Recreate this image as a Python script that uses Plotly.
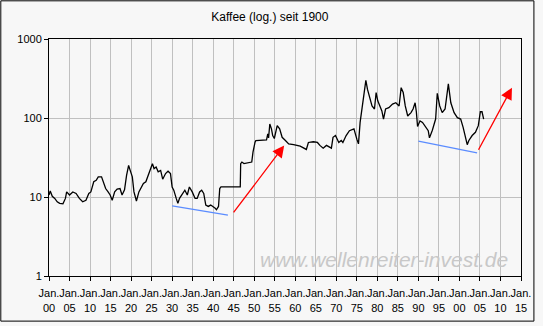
import math
import plotly.graph_objects as go

# Kaffee price history (decimal year, price), log scale
years = [
    1900.0, 1900.3, 1900.8, 1901.4, 1902.0, 1902.6, 1903.4, 1904.0, 1904.3, 1905.0,
    1905.8, 1906.6, 1907.4, 1908.2, 1909.0, 1909.7, 1910.2, 1910.9, 1911.5, 1912.0,
    1912.8, 1913.3, 1913.8, 1914.4, 1914.9, 1915.4, 1916.0, 1916.6, 1917.3, 1917.8,
    1918.4, 1918.9, 1919.4, 1919.9, 1920.3, 1920.7, 1921.3, 1921.9, 1922.5, 1923.0,
    1923.6, 1924.2, 1924.8, 1925.2, 1925.6, 1926.1, 1926.6, 1927.2, 1927.7, 1928.4,
    1929.0, 1929.6, 1930.0, 1930.4, 1931.0, 1931.4, 1931.8, 1932.5, 1933.1, 1933.7,
    1934.2, 1934.9, 1935.6, 1936.1, 1936.7, 1937.2, 1937.7, 1938.2, 1938.8, 1939.4,
    1940.0, 1940.5, 1940.8, 1941.3, 1941.6, 1941.9, 1946.6, 1946.7, 1947.0, 1947.5,
    1949.4, 1949.7, 1950.2, 1950.4, 1953.0, 1953.3, 1953.5, 1953.8, 1954.2, 1954.5,
    1954.9, 1955.2, 1955.6, 1956.2, 1956.8, 1957.6, 1958.4, 1959.6, 1961.2, 1962.7,
    1963.2, 1964.4, 1965.4, 1966.0, 1966.8, 1967.6, 1968.8, 1969.2, 1969.8, 1970.6,
    1971.2, 1971.6, 1972.4, 1973.2, 1974.3, 1975.0, 1975.4, 1975.8, 1976.4, 1976.9,
    1977.2, 1977.6, 1978.1, 1978.7, 1979.3, 1979.7, 1980.1, 1980.6, 1981.1, 1981.5,
    1982.0, 1982.8, 1983.7, 1984.5, 1985.3, 1985.8, 1986.3, 1986.8, 1987.4, 1988.2,
    1988.7, 1989.2, 1989.5, 1989.8, 1990.4, 1991.0, 1991.8, 1992.4, 1992.7, 1993.4,
    1994.2, 1994.6, 1995.2, 1995.8, 1996.5, 1997.0, 1997.3, 1997.9, 1998.7, 1999.5,
    2000.3, 2000.9, 2001.3, 2001.9, 2002.3, 2003.1, 2003.9, 2004.6, 2005.1, 2005.5,
    2005.9,
]
prices = [
    10.6, 11.9, 10.2, 9.6, 8.7, 8.3, 8.2, 9.6, 11.6, 10.6,
    11.6, 11.1, 9.6, 8.7, 9.1, 11.1, 11.6, 15.6, 16.3, 18.0,
    18.0, 15.6, 12.8, 11.6, 10.6, 9.1, 11.6, 12.6, 12.8, 10.6,
    12.3, 18.8, 25.1, 20.8, 18.0, 11.6, 8.9, 11.6, 13.4, 14.8,
    15.6, 18.8, 22.9, 26.4, 22.9, 24.0, 20.8, 21.7, 16.8, 19.8,
    21.2, 19.8, 13.4, 12.2, 9.6, 8.3, 9.6, 11.1, 12.2, 10.6,
    13.4, 11.6, 9.6, 9.6, 11.6, 12.2, 11.1, 7.9, 7.6, 7.9,
    7.6, 7.2, 6.9, 7.6, 12.8, 13.4, 13.4, 26.4, 27.7, 26.5,
    27.7, 37.0, 49.4, 51.9, 53.0, 63.0, 56.0, 84.0, 73.0, 60.0,
    55.0, 66.0, 80.0, 73.0, 57.0, 52.0, 47.0, 46.0, 44.0, 40.0,
    49.0, 50.0, 49.0, 45.0, 41.5, 45.0, 41.5, 57.0, 60.0, 49.0,
    52.0, 49.0, 60.0, 69.0, 73.0, 54.0, 47.0, 88.0, 142.0, 210.0,
    300.0, 230.0, 190.0, 142.0, 130.0, 210.0, 165.0, 142.0, 123.0, 97.0,
    130.0, 135.0, 150.0, 156.0, 142.0, 242.0, 210.0, 142.0, 106.0, 117.0,
    130.0, 156.0, 120.0, 78.0, 92.0, 88.0, 76.0, 69.0, 56.0, 70.0,
    97.0, 205.0, 142.0, 117.0, 130.0, 190.0, 270.0, 156.0, 117.0, 101.0,
    97.0, 76.0, 60.0, 46.0, 52.0, 60.0, 66.0, 80.0, 120.0, 120.0,
    97.0,
]

# Support lines (blue) and projected moves (red arrows)
support_1_x = [1930.0, 1943.6]
support_1_y = [7.7, 5.9]
support_2_x = [1990.0, 2004.3]
support_2_y = [51.0, 36.3]
arrow_1_x = [1944.7, 1957.3]
arrow_1_y = [6.1, 44.8]
arrow_2_x = [2004.45, 2012.8]
arrow_2_y = [38.0, 242.0]

tick_years = list(range(1900, 2016, 5))
tick_labels = ["Jan.<br>%02d" % (y % 100) for y in tick_years]
y_ticks = [1, 10, 100, 1000]
y_labels = ["1", "10", "100", "1000"]

BG = "#F7F7F7"
GRID = "#C0C0C0"
FONT = "Liberation Sans, Arial, sans-serif"

fig = go.Figure()

fig.add_trace(go.Scatter(
    x=years, y=prices, mode="lines",
    line=dict(color="black", width=1.3),
    hoverinfo="skip", showlegend=False,
))
for sx, sy in [(support_1_x, support_1_y), (support_2_x, support_2_y)]:
    fig.add_trace(go.Scatter(
        x=sx, y=sy, mode="lines",
        line=dict(color="#5b8cff", width=1.3),
        hoverinfo="skip", showlegend=False,
    ))

for axx, axy in [(arrow_1_x, arrow_1_y), (arrow_2_x, arrow_2_y)]:
    fig.add_annotation(
        x=axx[1], y=math.log10(axy[1]),
        ax=axx[0], ay=math.log10(axy[0]),
        xref="x", yref="y", axref="x", ayref="y",
        showarrow=True, arrowhead=2, arrowsize=1.8, arrowwidth=1.3,
        arrowcolor="#ff0000", text="",
    )

# watermark
fig.add_annotation(
    text="www.wellenreiter-invest.de",
    xref="paper", yref="paper", x=0.977, y=0.071,
    xanchor="right", yanchor="middle", showarrow=False,
    font=dict(family=FONT, size=21, color="#C8C8C8", style="italic"),
)

# outer frame of the graphic
W, H = 543, 326
L, R, T, B = 49, 19, 39, 48
pw, ph = W - L - R, H - T - B
fig.add_shape(
    type="rect", xref="paper", yref="paper",
    x0=(0.5 - L) / pw, x1=(537 - L) / pw,
    y0=(H - B - 323.5) / ph, y1=(H - B - 0.5) / ph,
    line=dict(color="black", width=1), fillcolor="rgba(0,0,0,0)", layer="below",
)

fig.update_layout(
    width=W, height=H,
    margin=dict(l=L, r=R, t=T, b=B, pad=0),
    paper_bgcolor=BG, plot_bgcolor=BG,
    font=dict(family=FONT, size=11, color="black"),
    title=dict(
        text="Kaffee (log.) seit 1900", x=0.497, xanchor="center",
        y=1 - 17 / H, yanchor="middle", yref="container",
        font=dict(family=FONT, size=12, color="black"),
    ),
    xaxis=dict(
        range=[1900, 2015], tickmode="array", tickvals=tick_years, ticktext=tick_labels,
        tickangle=0, ticklabelstandoff=3,
        showgrid=True, gridcolor=GRID, gridwidth=1,
        showline=True, linecolor="black", linewidth=1, mirror=True,
        ticks="outside", ticklen=4, tickcolor="black", zeroline=False,
        tickfont=dict(size=11, color="black"),
    ),
    yaxis=dict(
        type="log", range=[0, 3], tickmode="array", tickvals=y_ticks, ticktext=y_labels,
        showgrid=True, gridcolor=GRID, gridwidth=1,
        showline=True, linecolor="black", linewidth=1, mirror=True,
        ticks="outside", ticklen=4, tickcolor="black", zeroline=False,
        tickfont=dict(size=11, color="black"),
    ),
)

fig.write_html("out.html")
